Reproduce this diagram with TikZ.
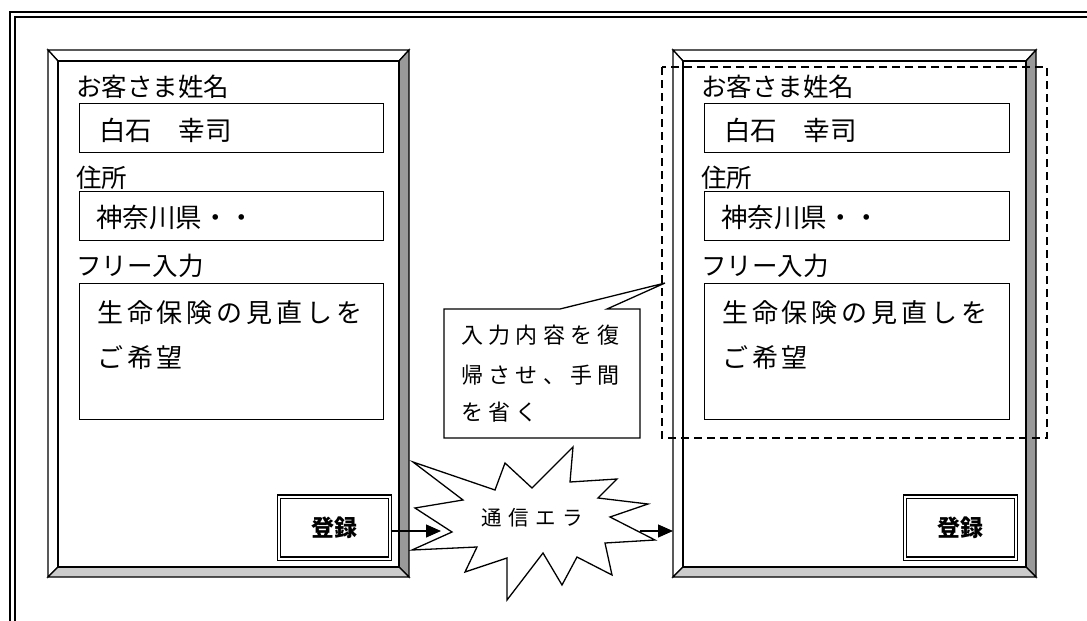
\documentclass[tikz,border=0pt]{standalone}
\usepackage{fontspec}
\setmainfont{Noto Sans CJK JP}
\usetikzlibrary{arrows.meta}
\definecolor{bevdark}{RGB}{153,153,153}
\definecolor{bevlight}{RGB}{204,204,204}
\tikzset{
  edge/.style={line width=1.3pt, line join=miter},
  lbl/.style={anchor=base west, inner sep=0pt, font=\fontsize{25.5}{26}\selectfont},
  val/.style={anchor=base west, inner sep=0pt, font=\fontsize{26.5}{27}\selectfont},
  freeval/.style={anchor=base west, inner sep=0pt, font=\fontsize{26}{26}\selectfont\addfontfeature{LetterSpace=15}},
  fieldbox/.style={draw, line width=1.3pt, fill=white, anchor=north west, inner sep=0pt},
  btn/.style={draw, double, double distance=2pt, line width=1.3pt, fill=white, minimum width=111pt, minimum height=62pt, inner sep=0pt, font=\fontsize{23}{23}\selectfont\bfseries},
  notetext/.style={anchor=base west, inner sep=0pt, font=\fontsize{22}{22}\selectfont\addfontfeature{LetterSpace=24}},
  bursttext/.style={anchor=base west, inner sep=0pt, font=\fontsize{20.5}{21}\selectfont\addfontfeature{LetterSpace=32}},
  conn/.style={-{Triangle[length=15pt,width=13pt]}, line width=1.2pt},
  dashbox/.style={line width=1.3pt, dash pattern=on 8pt off 5pt}
}
\newcommand\mybevelpanel[4]{%
  \filldraw[edge, fill=white] (#1,#2) -- (#3,#2) -- ({#3-10},{#2+11}) -- ({#1+10},{#2+11}) -- cycle;
  \filldraw[edge, fill=white] (#1,#2) -- ({#1+10},{#2+11}) -- ({#1+10},{#4-10}) -- (#1,#4) -- cycle;
  \filldraw[edge, fill=bevdark] (#3,#2) -- (#3,#4) -- ({#3-10},{#4-10}) -- ({#3-10},{#2+11}) -- cycle;
  \filldraw[edge, fill=bevlight] (#1,#4) -- (#3,#4) -- ({#3-10},{#4-10}) -- ({#1+10},{#4-10}) -- cycle;
  \filldraw[edge, fill=white] ({#1+10},{#2+11}) rectangle ({#3-10},{#4-10});
}
\begin{document}
\begin{tikzpicture}[x=1pt,y=-1pt]
\useasboundingbox (0,0) rectangle (1087,621);
\clip (0,0) rectangle (1087,621);
\fill[white] (0,0) rectangle (1087,621);
% outer double frame
\draw[line width=2.3pt] (10,12) rectangle (1130,670);
\draw[line width=1.2pt] (15,17) rectangle (1125,665);

% ---------- left form ----------
\mybevelpanel{48}{50}{409}{577}
\node[lbl] (nameLblL) at (76,96) {お客さま姓名};
\node[fieldbox, minimum width=304pt, minimum height=49pt] (nameBoxL) at (79,103) {};
\node[val] (nameValL) at (99,140) {白石　幸司};
\node[lbl] (addrLblL) at (76,187) {住所};
\node[fieldbox, minimum width=304pt, minimum height=49pt] (addrBoxL) at (79,191) {};
\node[val] (addrValL) at (96,227) {神奈川県・・};
\node[lbl] (freeLblL) at (76,275) {フリー入力};
\node[fieldbox, minimum width=304pt, minimum height=136pt] (freeBoxL) at (79,283) {};
\node[freeval] (freeValL1) at (97,322) {生命保険の見直しを};
\node[freeval] (freeValL2) at (97,367) {ご希望};
\node[btn] (btnL) at (334.5,527.5) {登録};

% ---------- right form ----------
\mybevelpanel{673}{50}{1036}{577}
\node[lbl] (nameLblR) at (701,96) {お客さま姓名};
\node[fieldbox, minimum width=305pt, minimum height=49pt] (nameBoxR) at (704,103) {};
\node[val] (nameValR) at (724,140) {白石　幸司};
\node[lbl] (addrLblR) at (701,187) {住所};
\node[fieldbox, minimum width=305pt, minimum height=49pt] (addrBoxR) at (704,191) {};
\node[val] (addrValR) at (721,227) {神奈川県・・};
\node[lbl] (freeLblR) at (701,275) {フリー入力};
\node[fieldbox, minimum width=305pt, minimum height=136pt] (freeBoxR) at (704,283) {};
\node[freeval] (freeValR1) at (722,322) {生命保険の見直しを};
\node[freeval] (freeValR2) at (722,367) {ご希望};
\node[btn] (btnR) at (960.5,527.5) {登録};

% dashed highlight
\draw[dashbox] (662,67) rectangle (1047,438);

% callout
\filldraw[edge, fill=white] (444,309) -- (560,309) -- (665,283) -- (607,309) -- (640,309)
  -- (640,438) -- (444,438) -- cycle;
\node[notetext] (note1) at (461,343.5) {入力内容を復};
\node[notetext] (note2) at (461,383.5) {帰させ、手間};
\node[notetext] (note3) at (461,420.5) {を省く};

% starburst
\filldraw[edge, fill=white] (413,462) -- (495,490) -- (505,463) -- (532,488) -- (573,447)
  -- (570,482) -- (617,479) -- (598,498) -- (648,504) -- (610,517) -- (655,540)
  -- (605,543) -- (612,575) -- (577,557) -- (562,585) -- (543,553) -- (507,600)
  -- (507,558) -- (465,572) -- (477,547) -- (412,550) -- (452,532) -- (415,508)
  -- (463,500) -- cycle;
\node[bursttext] (burst) at (481,525) {通信エラ};

% connectors
\coordinate (burstIn) at (441,531);
\coordinate (burstOut) at (640,531);
\coordinate (panelRW) at (673,531);
\draw[conn] ([yshift=-3.5pt]btnL.east) -- (burstIn);
\draw[conn] (burstOut) -- (panelRW);
\end{tikzpicture}
\end{document}
